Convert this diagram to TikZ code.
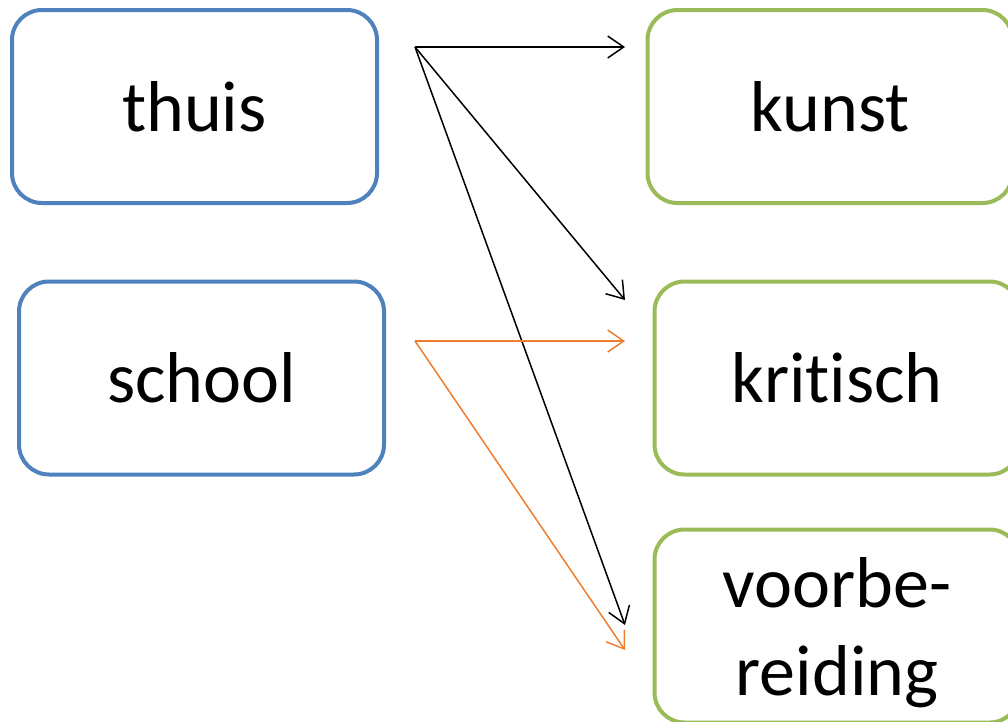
\documentclass[tikz,border=0pt]{standalone}
\usepackage{fontspec}
\setmainfont[Ligatures={NoCommon}]{Carlito}
\usetikzlibrary{arrows.meta}
\definecolor{boxblue}{RGB}{79,129,189}
\definecolor{boxgreen}{RGB}{155,187,89}
\definecolor{arrorange}{RGB}{237,125,49}
\begin{document}
\begin{tikzpicture}[x=1pt,y=-1pt,
  card/.style={draw, line width=4pt, rounded corners=30pt, fill=white,
    minimum width=365pt, minimum height=193pt, inner sep=0pt, align=center,
    font=\fontsize{72}{88}\selectfont},
  bluecard/.style={card, draw=boxblue},
  greencard/.style={card, draw=boxgreen},
  link/.style={line width=1.5pt, -{Straight Barb[length=16pt,width=22pt,line width=1.5pt]}},
  blacklink/.style={link, draw=black},
  orangelink/.style={link, draw=arrorange}]
\clip (0,0) rectangle (1008,721);
\useasboundingbox (0,0) rectangle (1008,721);
\node[bluecard] (thuis) at (194.5,106.5) {thuis};
\node[bluecard] (school) at (201.5,378) {school};
\node[greencard] (kunst) at (830,106.5) {kunst};
\node[greencard] (kritisch) at (837,378) {kri\kern0pt tisch};
\node[greencard] (voorb) at (837,626) {\raisebox{19pt}[0pt][0pt]{\begin{tabular}[t]{@{}c@{}}voorbe-\\reiding\end{tabular}}};
\coordinate (tstart) at (415,47);
\coordinate (sstart) at (415,341);
\coordinate (tk) at (625,47);
\coordinate (tkr) at (625,300);
\coordinate (tv) at (625,625);
\coordinate (skr) at (625,341);
\coordinate (sv) at (625,650);
\draw[blacklink] (tstart) -- (tk);
\draw[blacklink] (tstart) -- (tkr);
\draw[blacklink] (tstart) -- (tv);
\draw[orangelink] (sstart) -- (skr);
\draw[orangelink] (sstart) -- (sv);
\end{tikzpicture}
\end{document}
